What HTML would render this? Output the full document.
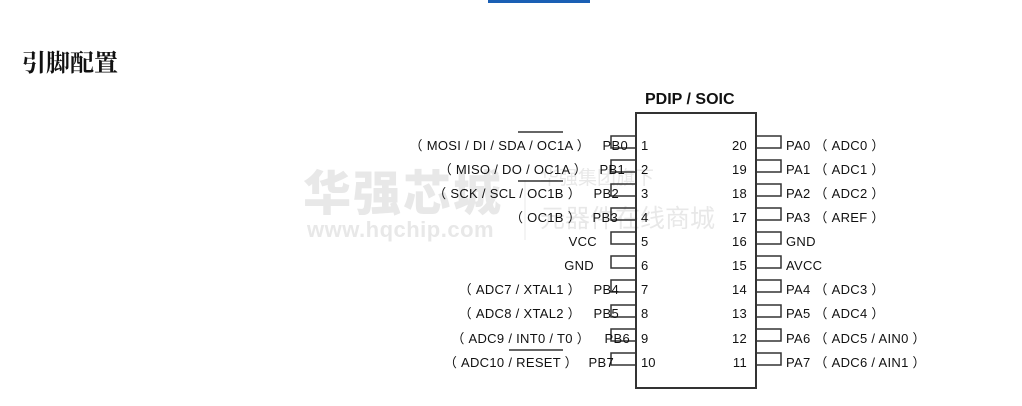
<!DOCTYPE html>
<html><head><meta charset="utf-8"><style>
body{margin:0;background:#fff;width:1022px;height:406px;overflow:hidden}
svg{position:absolute;left:0;top:0}
text{font-family:"Liberation Sans","Noto Sans CJK SC",sans-serif;font-size:13px;fill:#111}
</style></head><body>
<svg width="1022" height="406" xmlns="http://www.w3.org/2000/svg">
<rect x="488" y="0" width="102" height="3" fill="#1a5fb4"/>
<text x="22" y="71" style="font-size:24px;font-weight:bold;font-family:'Noto Serif CJK SC',serif">引脚配置</text>
<text x="303" y="210" style="font-size:48px;font-weight:900;fill:#e8e8e8;font-family:'Noto Sans CJK SC',sans-serif;letter-spacing:2px">华强芯城</text>
<text x="307" y="237" style="font-size:22px;font-weight:bold;fill:#e8e8e8;letter-spacing:0.5px">www.hqchip.com</text>
<text x="540" y="184" style="font-size:19px;fill:#e8e8e8;font-family:'Noto Sans CJK SC',sans-serif">华强集团旗下</text>
<text x="540" y="227" style="font-size:25px;fill:#e8e8e8;font-family:'Noto Sans CJK SC',sans-serif">元器件在线商城</text>
<line x1="525" y1="180" x2="525" y2="240" stroke="#e8e8e8"/>
<text x="645" y="104" style="font-size:16px;font-weight:bold">PDIP / SOIC</text>
<rect x="636" y="113" width="120" height="275" fill="none" stroke="#333" stroke-width="2"/>
<g fill="none" stroke="#333" stroke-width="1.5">
<rect x="611" y="136" width="25" height="12"/><rect x="611" y="160" width="25" height="12"/>
<rect x="611" y="184" width="25" height="12"/><rect x="611" y="208" width="25" height="12"/>
<rect x="611" y="232" width="25" height="12"/><rect x="611" y="256" width="25" height="12"/>
<rect x="611" y="280" width="25" height="12"/><rect x="611" y="305" width="25" height="12"/>
<rect x="611" y="329" width="25" height="12"/><rect x="611" y="353" width="25" height="12"/>
<rect x="756" y="136" width="25" height="12"/><rect x="756" y="160" width="25" height="12"/>
<rect x="756" y="184" width="25" height="12"/><rect x="756" y="208" width="25" height="12"/>
<rect x="756" y="232" width="25" height="12"/><rect x="756" y="256" width="25" height="12"/>
<rect x="756" y="280" width="25" height="12"/><rect x="756" y="305" width="25" height="12"/>
<rect x="756" y="329" width="25" height="12"/><rect x="756" y="353" width="25" height="12"/>
</g>
<g stroke="#333" stroke-width="1.5">
<line x1="518" y1="132" x2="563" y2="132"/>
<line x1="518" y1="181" x2="563" y2="181"/>
<line x1="509" y1="350" x2="563" y2="350"/>
</g>
<g text-anchor="end" style="letter-spacing:0.3px">
<text x="590" y="150">（ MOSI / DI / SDA / OC1A ）</text><text x="628" y="150">PB0</text>
<text x="587" y="174">（ MISO / DO / OC1A ）</text><text x="625" y="174">PB1</text>
<text x="581" y="198">（ SCK / SCL / OC1B ）</text><text x="619" y="198">PB2</text>
<text x="581" y="222">（ OC1B ）</text><text x="618" y="222">PB3</text>
<text x="597" y="246">VCC</text>
<text x="594" y="270">GND</text>
<text x="581" y="294">（ ADC7 / XTAL1 ）</text><text x="619" y="294">PB4</text>
<text x="581" y="318">（ ADC8 / XTAL2 ）</text><text x="619" y="318">PB5</text>
<text x="590" y="343">（ ADC9 / INT0 / T0 ）</text><text x="630" y="343">PB6</text>
<text x="578" y="367">（ ADC10 / RESET ）</text><text x="614" y="367">PB7</text>
<text x="747" y="150">20</text><text x="747" y="174">19</text><text x="747" y="198">18</text>
<text x="747" y="222">17</text><text x="747" y="246">16</text><text x="747" y="270">15</text>
<text x="747" y="294">14</text><text x="747" y="318">13</text><text x="747" y="343">12</text>
<text x="747" y="367">11</text>
</g>
<text x="641" y="150">1</text><text x="641" y="174">2</text><text x="641" y="198">3</text>
<text x="641" y="222">4</text><text x="641" y="246">5</text><text x="641" y="270">6</text>
<text x="641" y="294">7</text><text x="641" y="318">8</text><text x="641" y="343">9</text>
<text x="641" y="367">10</text>
<g style="letter-spacing:0.3px">
<text x="786" y="150">PA0 （ ADC0 ）</text>
<text x="786" y="174">PA1 （ ADC1 ）</text>
<text x="786" y="198">PA2 （ ADC2 ）</text>
<text x="786" y="222">PA3 （ AREF ）</text>
<text x="786" y="246">GND</text>
<text x="786" y="270">AVCC</text>
<text x="786" y="294">PA4 （ ADC3 ）</text>
<text x="786" y="318">PA5 （ ADC4 ）</text>
<text x="786" y="343">PA6 （ ADC5 / AIN0 ）</text>
<text x="786" y="367">PA7 （ ADC6 / AIN1 ）</text>
</g>
</svg>
</body></html>
